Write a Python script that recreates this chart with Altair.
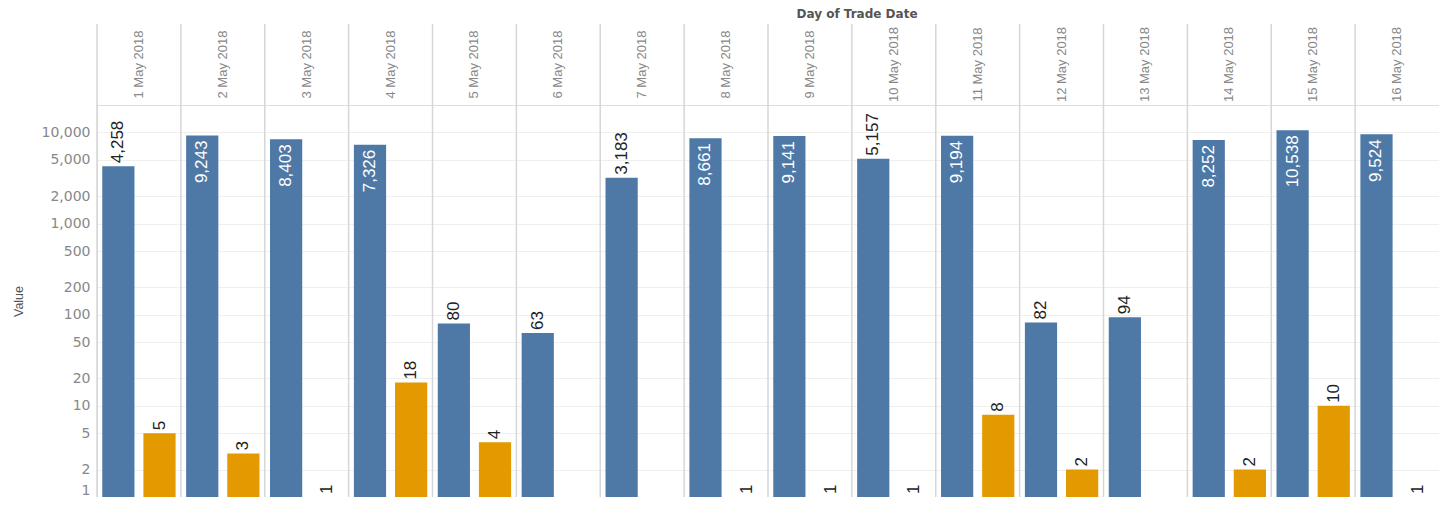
import altair as alt
import pandas as pd

days = ["1 May 2018", "2 May 2018", "3 May 2018", "4 May 2018", "5 May 2018",
        "6 May 2018", "7 May 2018", "8 May 2018", "9 May 2018", "10 May 2018",
        "11 May 2018", "12 May 2018", "13 May 2018", "14 May 2018", "15 May 2018",
        "16 May 2018"]
series_names = ["Measure A", "Measure B"]
blue_values = [4258, 9243, 8403, 7326, 80, 63, 3183, 8661, 9141, 5157, 9194, 82, 94, 8252, 10538, 9524]
orange_values = [5, 3, 1, 18, 4, None, None, 1, 1, 1, 8, 2, None, 2, 10, 1]
y_ticks = [1, 2, 5, 10, 20, 50, 100, 200, 500, 1000, 2000, 5000, 10000]
header_title = "Day of Trade Date"

rows = []
for d, b, o in zip(days, blue_values, orange_values):
    rows.append({"day": d, "series": series_names[0], "value": b})
    if o is not None:
        rows.append({"day": d, "series": series_names[1], "value": o})
df = pd.DataFrame(rows)
days_df = pd.DataFrame({"day": days})

W = 1342
H = 392
HEADER = 81
FONT = "Liberation Sans"
GRID = "#d6d6d6"

x_scale = alt.Scale(domain=days, paddingInner=0, paddingOuter=0)
x_enc = alt.X("day:N", sort=days, scale=x_scale, axis=None)
xoff = alt.XOffset("series:N", scale=alt.Scale(domain=series_names, paddingInner=0.217, paddingOuter=0.128))
y_scale = alt.Scale(type="log", domain=[1, 20000])

y_axis = alt.Axis(
    values=y_ticks, format=",", title="Value", grid=True, gridColor="#efefef",
    ticks=False, domain=False, labelFont="DejaVu Sans", labelFontSize=14,
    labelColor="#888888", labelPadding=7, labelFlush=True,
    titleFont=FONT, titleFontSize=12.5, titleFontWeight="normal", titleColor="#555555",
    titleX=-79, titleY=H / 2, titleAngle=270, titleAlign="center", titleBaseline="middle",
)

base = alt.Chart(df)

bars = base.mark_bar().encode(
    x=x_enc, xOffset=xoff,
    y=alt.Y("value:Q", scale=y_scale, axis=y_axis, stack=None),
    y2=alt.value(H),
    color=alt.Color("series:N", scale=alt.Scale(domain=series_names, range=["#4e79a7", "#e39a00"]), legend=None),
)

lab_out = base.transform_filter("datum.value < 6000").mark_text(
    angle=270, align="left", baseline="middle", dx=3, font=FONT, fontSize=17, color="#222222"
).encode(x=x_enc, xOffset=xoff, y=alt.Y("value:Q", scale=y_scale, stack=None), text=alt.Text("value:Q", format=","))

lab_in = base.transform_filter("datum.value >= 6000").mark_text(
    angle=270, align="right", baseline="middle", dx=-5, font=FONT, fontSize=17, color="#ffffff"
).encode(x=x_enc, xOffset=xoff, y=alt.Y("value:Q", scale=y_scale, stack=None), text=alt.Text("value:Q", format=","))

seps = alt.Chart(days_df).mark_rule(color=GRID, strokeWidth=1.5).encode(
    x=alt.X("day:N", sort=days, scale=x_scale, axis=None, bandPosition=0),
    y=alt.value(-HEADER), y2=alt.value(H),
)

header = alt.Chart(days_df).mark_text(
    angle=270, align="center", baseline="middle", font=FONT, fontSize=13, color="#888888"
).encode(x=x_enc, y=alt.value(-HEADER / 2), text="day:N")

title = alt.Chart(pd.DataFrame({"t": [header_title]})).mark_text(
    font="DejaVu Sans", fontSize=12, fontWeight="bold", color="#555555", baseline="middle"
).encode(x=alt.value(760), y=alt.value(-91), text="t:N")

chart = alt.layer(seps, bars, lab_out, lab_in, header, title).properties(
    width=W, height=H,
    autosize=alt.AutoSizeParams(type="none"),
    padding={"left": 89, "top": 97, "right": 0, "bottom": 0},
).configure_view(stroke=GRID, strokeWidth=1.5).configure(font=FONT)

chart.save("out.html", embed_options={"renderer": "svg", "actions": False})
